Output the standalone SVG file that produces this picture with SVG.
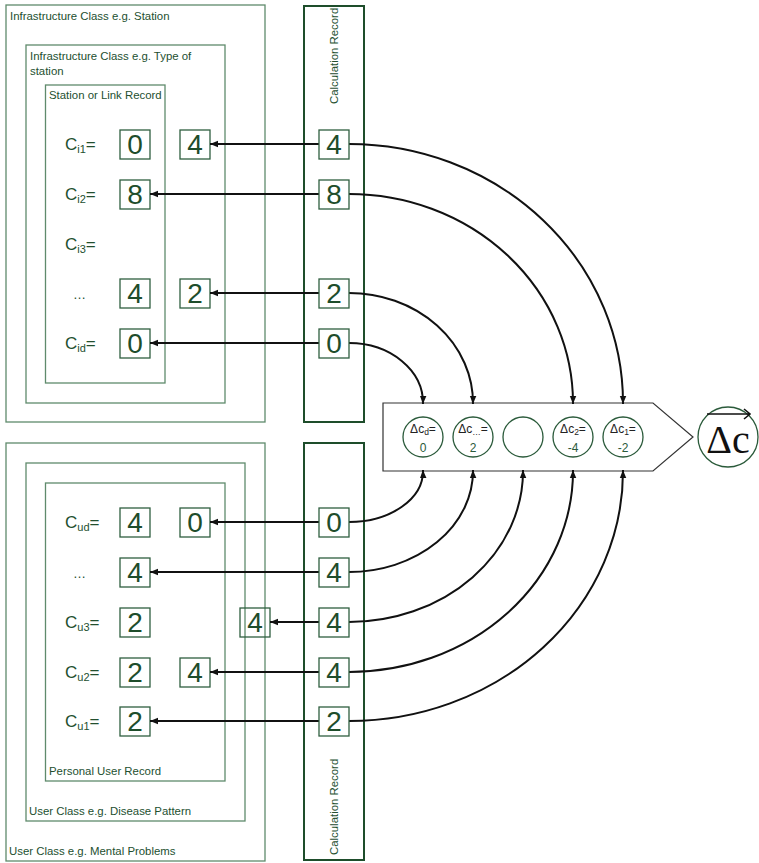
<svg xmlns="http://www.w3.org/2000/svg" width="759" height="863" viewBox="0 0 759 863">
<style>
.cont{fill:none;stroke:#5f8a6c;stroke-width:1.3}
.calc{fill:none;stroke:#1e4d2b;stroke-width:2}
.nb{fill:none;stroke:#2f5f3f;stroke-width:1.3}
.nbw{fill:#fff;stroke:#2f5f3f;stroke-width:1.3}
.num{font-family:"Liberation Sans",Arial,sans-serif;font-size:28px;fill:#1e4d2b;text-anchor:middle}
.t{font-family:"Liberation Sans",Arial,sans-serif;font-size:11.4px;fill:#234f2f}
.lab{font-family:"Liberation Sans",Arial,sans-serif;font-size:17px;fill:#234f2f}
.sub{font-size:11px}
.con{fill:none;stroke:#111;stroke-width:2;marker-end:url(#ah)}
.circ{fill:#fff;stroke:#2a5a3a;stroke-width:1.3}
.ct{font-family:"Liberation Sans",Arial,sans-serif;font-size:12px;fill:#222;text-anchor:middle}
.cn{font-family:"Liberation Sans",Arial,sans-serif;font-size:12px;fill:#2a5a3a;text-anchor:middle}
.cs{font-size:8.5px}
</style>
<defs>
<marker id="ah" viewBox="0 0 10 10" refX="10" refY="5" markerWidth="9" markerHeight="8" markerUnits="userSpaceOnUse" orient="auto"><path d="M0,1 L10,5 L0,9 z" fill="#111"/></marker>
</defs>
<rect width="759" height="863" fill="#fff"/>

<g id="infra-station">
<rect class="cont" x="6" y="5" width="259" height="417"/>
<text class="t" x="10" y="20">Infrastructure Class e.g. Station</text>
</g>
<g id="infra-type">
<rect class="cont" x="26" y="45" width="199" height="358"/>
<text class="t" x="30" y="60">Infrastructure Class e.g. Type of</text>
<text class="t" x="30" y="75">station</text>
</g>
<g id="station-record">
<rect class="cont" x="45.5" y="85" width="119.5" height="298"/>
<text class="t" x="49" y="99">Station or Link Record</text>
<text class="lab" x="65" y="150">C<tspan class="sub" dy="3">i1</tspan><tspan dy="-3">=</tspan></text>
<text class="lab" x="65" y="200">C<tspan class="sub" dy="3">i2</tspan><tspan dy="-3">=</tspan></text>
<text class="lab" x="65" y="250">C<tspan class="sub" dy="3">i3</tspan><tspan dy="-3">=</tspan></text>
<text class="lab" x="73" y="299" style="font-size:13px">…</text>
<text class="lab" x="65" y="349">C<tspan class="sub" dy="3">id</tspan><tspan dy="-3">=</tspan></text>
<rect class="nb" x="120" y="130" width="30" height="29"/><text class="num" x="135" y="154">0</text>
<rect class="nb" x="120" y="180" width="30" height="29"/><text class="num" x="135" y="204">8</text>
<rect class="nb" x="120" y="279" width="30" height="29"/><text class="num" x="135" y="303">4</text>
<rect class="nb" x="120" y="329" width="30" height="29"/><text class="num" x="135" y="353">0</text>
</g>
<g id="infra-values">
<rect class="nb" x="180" y="130" width="30" height="29"/><text class="num" x="195" y="154">4</text>
<rect class="nb" x="180" y="279" width="30" height="29"/><text class="num" x="195" y="303">2</text>
</g>

<g id="user-mental">
<rect class="cont" x="6" y="443" width="259" height="418"/>
<text class="t" x="9" y="855">User Class e.g. Mental Problems</text>
</g>
<g id="user-disease">
<rect class="cont" x="26" y="463" width="219" height="358"/>
<text class="t" x="29" y="815">User Class e.g. Disease Pattern</text>
</g>
<g id="personal-record">
<rect class="cont" x="45.5" y="483" width="179.5" height="298"/>
<text class="t" x="49" y="775">Personal User Record</text>
<text class="lab" x="65" y="528">C<tspan class="sub" dy="3">ud</tspan><tspan dy="-3">=</tspan></text>
<text class="lab" x="73" y="578" style="font-size:13px">…</text>
<text class="lab" x="65" y="628">C<tspan class="sub" dy="3">u3</tspan><tspan dy="-3">=</tspan></text>
<text class="lab" x="65" y="678">C<tspan class="sub" dy="3">u2</tspan><tspan dy="-3">=</tspan></text>
<text class="lab" x="65" y="727">C<tspan class="sub" dy="3">u1</tspan><tspan dy="-3">=</tspan></text>
<rect class="nb" x="120" y="508" width="30" height="29"/><text class="num" x="135" y="532">4</text>
<rect class="nb" x="120" y="558" width="30" height="29"/><text class="num" x="135" y="582">4</text>
<rect class="nb" x="120" y="608" width="30" height="29"/><text class="num" x="135" y="632">2</text>
<rect class="nb" x="120" y="658" width="30" height="29"/><text class="num" x="135" y="682">2</text>
<rect class="nb" x="120" y="707" width="30" height="29"/><text class="num" x="135" y="731">2</text>
</g>
<g id="user-values">
<rect class="nb" x="180" y="508" width="30" height="29"/><text class="num" x="195" y="532">0</text>
<rect class="nb" x="240" y="608" width="30" height="29"/><text class="num" x="255" y="632">4</text>
<rect class="nb" x="180" y="658" width="30" height="29"/><text class="num" x="195" y="682">4</text>
</g>

<g id="calc-top">
<rect class="calc" x="304" y="6" width="60" height="416"/>
<text class="t" transform="translate(338,104) rotate(-90)">Calculation Record</text>
</g>
<g id="calc-bottom">
<rect class="calc" x="304" y="443" width="60" height="417"/>
<text class="t" transform="translate(338,855) rotate(-90)">Calculation Record</text>
</g>

<g id="aggregator">
<polygon points="383,403 653,403 693,437 653,471 383,471" fill="#fff" stroke="#333" stroke-width="1.2"/>
<circle class="circ" cx="423" cy="437" r="20"/>
<text class="ct" x="423" y="433">Δc<tspan class="cs" dy="2">d</tspan><tspan dy="-2">=</tspan></text>
<text class="cn" x="423" y="452">0</text>
<circle class="circ" cx="473" cy="437" r="20"/>
<text class="ct" x="473" y="433">Δc<tspan class="cs" dy="2">…</tspan><tspan dy="-2">=</tspan></text>
<text class="cn" x="473" y="452">2</text>
<circle class="circ" cx="523" cy="437" r="20"/>
<circle class="circ" cx="573" cy="437" r="20"/>
<text class="ct" x="573" y="433">Δc<tspan class="cs" dy="2">2</tspan><tspan dy="-2">=</tspan></text>
<text class="cn" x="573" y="452">-4</text>
<circle class="circ" cx="623" cy="437" r="20"/>
<text class="ct" x="623" y="433">Δc<tspan class="cs" dy="2">1</tspan><tspan dy="-2">=</tspan></text>
<text class="cn" x="623" y="452">-2</text>
</g>

<g id="delta-c">
<circle class="circ" cx="728" cy="437" r="30"/>
<text x="728" y="453" style="font-family:'Liberation Serif','DejaVu Serif',serif;font-size:40px;fill:#111;text-anchor:middle">Δc</text>
<path d="M707,414 H750 M744,409 L750,414 L744,419" fill="none" stroke="#111" stroke-width="1.6"/>
</g>

<g id="connectors">
<path class="con" d="M319,144 H210"/>
<path class="con" d="M319,194 H150"/>
<path class="con" d="M319,293 H210"/>
<path class="con" d="M319,343 H150"/>
<path class="con" d="M319,522 H210"/>
<path class="con" d="M319,572 H150"/>
<path class="con" d="M319,622 H270"/>
<path class="con" d="M319,672 H210"/>
<path class="con" d="M319,721 H150"/>
<path class="con" d="M349,144 A274,259 0 0 1 623,404"/>
<path class="con" d="M349,194 A224,209 0 0 1 573,404"/>
<path class="con" d="M349,293 A124,110 0 0 1 473,404"/>
<path class="con" d="M349,343 A74,60 0 0 1 423,404"/>
<path class="con" d="M349,522 A74,51 0 0 0 423,470"/>
<path class="con" d="M349,572 A124,101 0 0 0 473,470"/>
<path class="con" d="M349,622 A174,151 0 0 0 523,470"/>
<path class="con" d="M349,672 A224,201 0 0 0 573,470"/>
<path class="con" d="M349,721 A274,250 0 0 0 623,470"/>
</g>

<g id="calc-values">
<rect class="nbw" x="319" y="130" width="30" height="29"/><text class="num" x="334" y="154">4</text>
<rect class="nbw" x="319" y="180" width="30" height="29"/><text class="num" x="334" y="204">8</text>
<rect class="nbw" x="319" y="279" width="30" height="29"/><text class="num" x="334" y="303">2</text>
<rect class="nbw" x="319" y="329" width="30" height="29"/><text class="num" x="334" y="353">0</text>
<rect class="nbw" x="319" y="508" width="30" height="29"/><text class="num" x="334" y="532">0</text>
<rect class="nbw" x="319" y="558" width="30" height="29"/><text class="num" x="334" y="582">4</text>
<rect class="nbw" x="319" y="608" width="30" height="29"/><text class="num" x="334" y="632">4</text>
<rect class="nbw" x="319" y="658" width="30" height="29"/><text class="num" x="334" y="682">4</text>
<rect class="nbw" x="319" y="707" width="30" height="29"/><text class="num" x="334" y="731">2</text>
</g>
</svg>
